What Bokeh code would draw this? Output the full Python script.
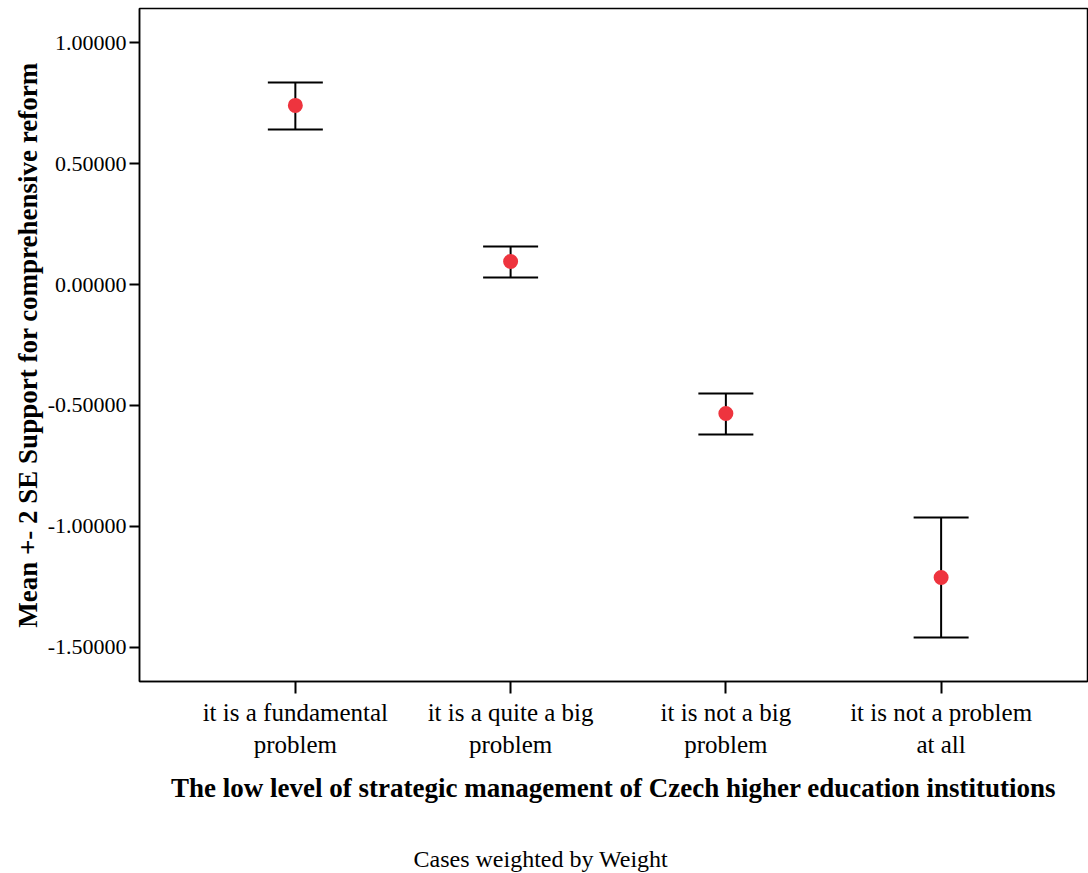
from bokeh.plotting import figure
from bokeh.models import (ColumnDataSource, Whisker, TeeHead, FixedTicker,
                          PrintfTickFormatter, Range1d, Title)
from bokeh.embed import file_html
from bokeh.resources import INLINE

categories = ["it is a fundamental\nproblem", "it is a quite a big\nproblem",
              "it is not a big\nproblem", "it is not a problem\nat all"]
means = [0.740, 0.095, -0.533, -1.211]
upper = [0.835, 0.157, -0.450, -0.963]
lower = [0.640, 0.029, -0.620, -1.459]
y_ticks = [-1.5, -1.0, -0.5, 0.0, 0.5, 1.0]

xs = list(range(1, len(categories) + 1))
src = ColumnDataSource(dict(x=xs, mean=means, upper=upper, lower=lower))

FONT = "Liberation Serif"

p = figure(width=1088, height=873, output_backend="svg", toolbar_location=None,
           x_range=Range1d(0.276, 4.68), y_range=Range1d(-1.6405, 1.1405),
           min_border_left=139, min_border_right=1, min_border_top=8,
           min_border_bottom=192)
p.grid.visible = False
p.background_fill_color = "white"
p.border_fill_color = "white"
p.outline_line_color = "black"
p.outline_line_width = 1.5

# error bars: mean +- 2 SE
whisk = Whisker(source=src, base="x", upper="upper", lower="lower",
                line_color="black", line_width=2,
                upper_head=TeeHead(size=55, line_color="black", line_width=2),
                lower_head=TeeHead(size=55, line_color="black", line_width=2))
p.add_layout(whisk)
p.scatter("x", "mean", source=src, size=15, color="#EE343E", line_color=None)

# y axis
p.yaxis.ticker = FixedTicker(ticks=y_ticks)
p.yaxis.formatter = PrintfTickFormatter(format="%.5f")
p.yaxis.minor_tick_line_color = None
p.yaxis.major_tick_out = 10
p.yaxis.major_tick_in = 0
p.yaxis.major_tick_line_width = 2
p.yaxis.axis_line_width = 1.5
p.yaxis.major_label_text_font = FONT
p.yaxis.major_label_text_font_size = "22px"
p.yaxis.major_label_text_color = "black"
p.yaxis.major_label_standoff = 3
p.yaxis.axis_label = "Mean +- 2 SE Support for comprehensive reform"
p.yaxis.axis_label_text_font = FONT
p.yaxis.axis_label_text_font_style = "bold"
p.yaxis.axis_label_text_font_size = "27px"
p.yaxis.axis_label_text_color = "black"
p.yaxis.axis_label_standoff = 2

# x axis (a blank second line in the title leaves room for the footnote)
p.xaxis.ticker = FixedTicker(ticks=xs)
p.xaxis.major_label_overrides = {x: c for x, c in zip(xs, categories)}
p.xaxis.minor_tick_line_color = None
p.xaxis.major_tick_out = 12
p.xaxis.major_tick_in = 0
p.xaxis.major_tick_line_width = 2
p.xaxis.axis_line_width = 1.5
p.xaxis.major_label_text_font = FONT
p.xaxis.major_label_text_font_size = "25px"
p.xaxis.major_label_text_color = "black"
p.xaxis.major_label_standoff = 5
p.xaxis.axis_label = "The low level of strategic management of Czech higher education institutions\n "
p.xaxis.axis_label_text_font = FONT
p.xaxis.axis_label_text_font_style = "bold"
p.xaxis.axis_label_text_font_size = "27px"
p.xaxis.axis_label_text_color = "black"
p.xaxis.axis_label_standoff = 12

note = Title(text="Cases weighted by Weight", align="left", offset=274,
             text_font=FONT, text_font_size="24px", text_font_style="normal",
             text_color="black", standoff=4)
p.add_layout(note, "below")

open("out.html", "w").write(file_html(p, INLINE))
